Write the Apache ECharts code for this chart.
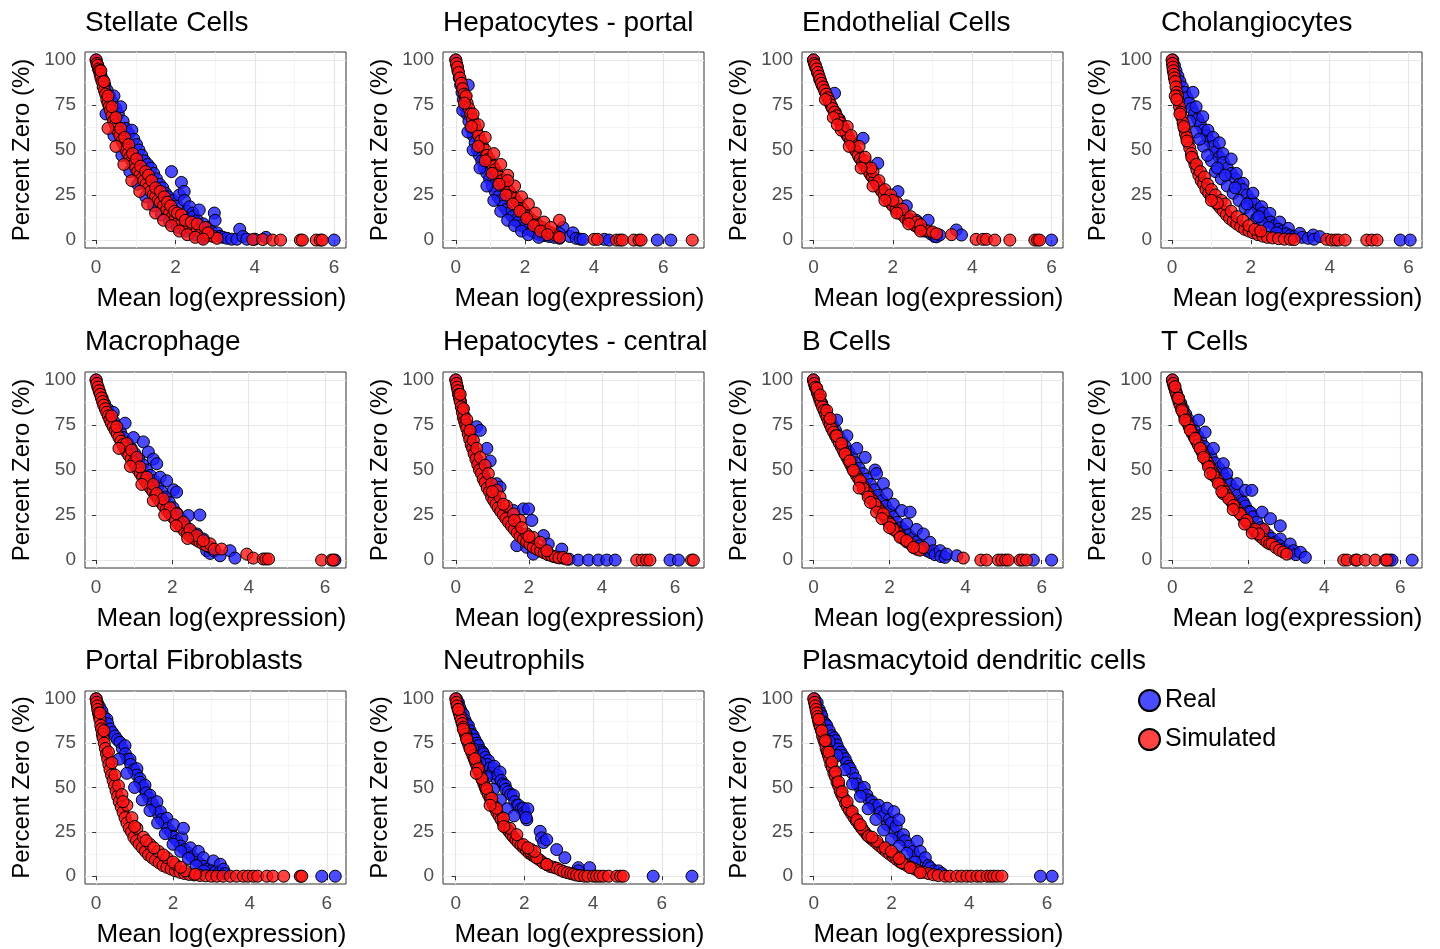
<!DOCTYPE html>
<html>
<head>
<meta charset="utf-8">
<script src="https://cdn.jsdelivr.net/npm/echarts@6/dist/echarts.min.js"></script>
<style>
  html, body { margin: 0; padding: 0; background: #fff; }
  #main { width: 1440px; height: 949px; }
</style>
</head>
<body>
<div id="main"></div>
<script>
// panel titles, in reading order
var panelTitles = ['Stellate Cells', 'Hepatocytes - portal', 'Endothelial Cells', 'Cholangiocytes',
  'Macrophage', 'Hepatocytes - central', 'B Cells', 'T Cells',
  'Portal Fibroblasts', 'Neutrophils', 'Plasmacytoid dendritic cells'];

var xTicks = [0, 2, 4, 6];
var yTicks = [0, 25, 50, 75, 100];
var xMinorTicks = [1, 3, 5, 7];
var yMinorTicks = [12.5, 37.5, 62.5, 87.5];

// [mean log(expression), percent zero]
var stellateReal = [[0,100],[0.04,97],[0.08,95],[0.12,92],[0.17,89],[0.22,86],[0.28,83],[0.34,80],[0.4,77],[0.45,80],[0.5,73],[0.56,70],[0.62,74],[0.68,66],[0.75,62],[0.82,59],[0.9,61],[0.95,56],[1.02,53],[1.08,50],[1.15,47],[1.22,44],[1.3,42],[1.38,40],[1.45,37],[1.52,34],[1.6,31],[1.68,29],[1.75,26],[1.82,24],[1.9,38],[1.95,22],[2.05,19],[2.1,25],[2.15,32],[2.22,27],[2.23,22],[2.3,16],[2.36,18.5],[2.44,15],[2.45,13],[2.55,11],[2.6,16.7],[2.7,9],[2.8,7],[2.9,5],[2.98,15],[3.0,11],[3.05,4],[3.12,2],[3.2,1.5],[3.3,1],[3.42,0.5],[3.55,0.5],[3.62,6],[3.7,2],[3.8,0.5],[4.0,0.5],[4.28,1.5],[6.0,0],
  [0.25,70],[0.45,58],[0.65,47],[0.85,38],[1.05,31],[1.25,24],[1.45,19],[1.65,14],[1.85,10],[2.05,7],[2.25,5],[2.5,3],[2.7,1.5]];
var stellateSim = [[0,100],[0.02,98],[0.04,97],[0.06,95],[0.08,94],[0.1,92],[0.12,90],[0.15,88],[0.18,85],[0.21,83],[0.24,81],[0.27,78],[0.3,76],[0.33,74],[0.36,72],[0.4,69],[0.44,66],[0.48,64],[0.52,62],[0.56,60],[0.6,58],[0.65,55],[0.7,53],[0.75,50],[0.8,48],[0.85,46],[0.9,44],[0.95,42],[1.0,40],[1.05,38],[1.1,36],[1.15,34],[1.2,33],[1.26,31],[1.32,29],[1.38,27],[1.44,25],[1.5,24],[1.56,22],[1.62,21],[1.7,19],[1.78,17],[1.85,15],[1.92,13],[2.0,12],[2.08,10],[2.16,9],[2.25,8],[2.35,7],[2.45,6],[2.55,5],[2.65,4],[2.75,3],[2.85,2.5],[2.95,2],[3.05,1],
  [0.12,94],[0.2,88],[0.3,80],[0.4,74],[0.5,68],[0.62,62],[0.72,57],[0.82,53],[0.92,48],[1.02,45],[1.12,41],[1.25,38],[1.32,36],[1.4,33],[1.5,29],[1.62,27],[1.72,24],[1.8,21],[1.88,19],[1.98,16],[2.05,15],[2.15,14],[2.25,11],[2.4,10],[2.55,9],[2.75,7],[2.82,4],
  [0.3,62],[0.5,52],[0.7,42],[0.9,33],[1.1,27],[1.3,20],[1.5,15],[1.7,11],[1.9,8],[2.1,5],[2.3,3],[2.5,1.5],[2.7,0.5],
  [3.95,0.3],[4.2,0.3],[4.45,0],[4.65,0],[5.15,0],[5.2,0],[5.55,0],[5.65,0],[5.7,0]];

var portalHepReal = [[0,100],[0.03,97],[0.06,94],[0.1,90],[0.14,86],[0.18,82],[0.22,78],[0.27,74],[0.32,70],[0.36,86],[0.38,66],[0.44,62],[0.5,58],[0.56,54],[0.62,50],[0.68,47],[0.75,44],[0.82,40],[0.9,37],[0.98,34],[1.06,30],[1.14,27],[1.22,24],[1.3,22],[1.38,19],[1.46,17],[1.55,15],[1.64,13],[1.72,11],[1.8,10],[1.9,8],[2.0,7],[2.1,6],[2.2,5],[2.3,4],[2.42,3],[2.55,2.5],[2.7,2],[2.85,1.5],[3.0,1],[3.1,7],[3.0,3.7],
  [0.2,72],[0.35,60],[0.5,50],[0.7,40],[0.9,30],[1.1,22],[1.3,16],[1.5,11],[1.7,8],[1.9,5],[2.1,3],[2.4,1.5],
  [3.3,2],[3.39,4],[3.48,1],[3.6,0.5],[3.68,0.4],[4.3,0.4],[4.44,0],[5.83,0],[6.22,0]];
var portalHepSim = [[0,100],[0.02,98],[0.05,96],[0.08,93],[0.12,90],[0.16,87],[0.2,84],[0.24,81],[0.28,79],[0.33,76],[0.38,73],[0.43,70],[0.48,67],[0.54,64],[0.6,61],[0.66,58],[0.72,55],[0.78,52],[0.85,50],[0.9,47],[0.96,45],[1.02,43],[1.08,41],[1.14,39],[1.2,37],[1.27,35],[1.34,33],[1.41,31],[1.48,29],[1.55,27],[1.62,25],[1.7,23],[1.78,21],[1.86,19],[1.94,17],[2.02,15],[2.1,13],[2.2,11],[2.3,10],[2.4,8],[2.5,7],[2.6,5.5],[2.7,4.5],[2.8,3.5],[2.9,2.5],[3.0,11],[3.0,1.5],
  [0.3,80],[0.5,70],[0.65,64],[0.85,57],[1.1,48],[1.3,42],[1.5,36],[1.7,30],[1.5,33],[1.9,24],[2.1,20],[2.3,15],[2.55,10],[2.75,7],
  [0.25,76],[0.45,63],[0.65,52],[0.85,44],[1.05,37],[1.25,31],[1.45,25],[1.65,20],[1.85,16],[2.05,12],[2.25,8],[2.45,5],[2.65,3],
  [4.0,0.4],[4.1,0.4],[4.65,0],[4.75,0],[4.82,0],[5.15,0],[5.3,0],[5.36,0],[6.84,0]];

var endoReal = [[0,100],[0.05,96],[0.1,93],[0.16,89],[0.22,86],[0.3,82],[0.38,78],[0.46,74],[0.53,81.5],[0.55,71],[0.65,67],[0.75,62],[0.85,58],[0.95,54],[1.05,50],[1.15,46],[1.25,56.5],[1.25,43],[1.35,40],[1.45,36],[1.55,33],[1.62,42.6],[1.65,30],[1.75,27],[1.85,24],[1.95,21],[2.05,19],[2.13,26.9],[2.15,17],[2.25,15],[2.34,19],[2.4,12],[2.5,10],[2.59,11],[2.6,8],[2.7,6.5],[2.8,5],[2.89,11],[2.95,3.5],[3.05,2],[3.1,1.8],[3.18,2.8],[3.6,5.6],[3.73,2.8],[6.0,0]];
var endoSim = [[0,100],[0.02,98],[0.05,97],[0.08,95],[0.11,93],[0.14,91],[0.17,89],[0.2,87],[0.24,85],[0.28,83],[0.32,81],[0.36,79],[0.4,77],[0.44,75],[0.48,73],[0.53,71],[0.58,69],[0.63,67],[0.68,65],[0.73,63],[0.78,61],[0.83,59],[0.88,57],[0.93,55],[0.98,53],[1.03,51],[1.08,49],[1.13,47],[1.18,45],[1.24,43],[1.3,41],[1.36,39],[1.42,37],[1.48,35],[1.54,33],[1.6,31],[1.66,29],[1.72,27],[1.78,25],[1.85,23],[1.92,21],[2.0,19],[2.08,17],[2.16,15],[2.24,14],[2.32,12],[2.4,11],[2.48,9.5],[2.56,8],[2.64,7],[2.72,6],[2.8,5.5],[2.9,5],[3.0,4.5],[3.1,3.5],[3.48,3],
  [0.5,68],[0.7,61],[0.85,63],[0.95,58],[1.15,52],[1.3,44],[1.5,38],[1.65,33],[1.8,28],[1.95,25],[2.1,21],[2.25,17],[2.45,13],[2.6,10],[2.7,8.5],[1.3,46],[1.45,40],[2.0,22],
  [0.3,78],[0.6,64],[0.9,52],[1.2,40],[1.5,30],[1.8,22],[2.1,15],[2.4,9],[2.7,5],
  [4.1,0.4],[4.27,0.4],[4.36,0.4],[4.57,0],[4.95,0],[5.58,0],[5.65,0],[5.7,0]];

var cholReal = [[0.02,100],[0.06,97],[0.1,94],[0.15,91],[0.2,88],[0.26,85],[0.32,82],[0.38,79],[0.44,76],[0.5,73],[0.53,82],[0.57,70],[0.61,74],[0.65,67],[0.72,64],[0.78,68.5],[0.8,61],[0.88,58],[0.91,61],[0.96,55],[1.04,57],[1.05,52],[1.12,49],[1.2,54],[1.2,46],[1.29,48],[1.3,43],[1.4,40],[1.5,45],[1.5,37],[1.6,34],[1.63,37],[1.7,31],[1.8,31.5],[1.8,28],[1.9,25],[2.0,22],[2.05,26],[2.1,20],[2.2,17],[2.27,18.5],[2.3,15],[2.4,12],[2.48,14.8],[2.5,10],[2.6,8],[2.73,10],[2.7,6],[2.8,5],[2.95,6.5],[2.9,3.5],[3.0,2.5],[3.1,2],[3.24,3.7],[3.3,1.5],[3.45,1],[3.58,2.8],[3.6,0.5],[3.75,1.9],[5.79,0],[6.04,0],
  [0.6,60],[0.8,52],[1.0,44],[1.1,38],[1.25,34],[1.4,30],[1.55,26],[1.7,22],[1.85,18],[2.0,15],[2.15,12],[2.3,9],[0.45,66],[0.7,56],[0.9,47],[1.15,40],[1.35,36],[1.6,29],[1.9,20],[2.2,13],[2.45,7],[2.65,4]];
var cholSim = [[0,100],[0.01,98],[0.02,96],[0.03,94],[0.05,92],[0.06,90],[0.08,88],[0.1,85],[0.12,82],[0.14,80],[0.16,77],[0.19,74],[0.22,71],[0.25,68],[0.28,65],[0.31,62],[0.34,59],[0.37,57],[0.41,54],[0.45,51],[0.49,48],[0.53,45],[0.58,42],[0.63,39],[0.68,36],[0.74,33],[0.8,31],[0.86,28],[0.93,26],[1.0,24],[1.07,22],[1.14,20],[1.22,18],[1.3,16],[1.38,14],[1.46,12],[1.55,10.5],[1.64,9],[1.74,7.5],[1.84,6],[1.95,5],[2.06,4],[2.18,3],[2.3,2.2],[2.42,1.5],[2.55,1.2],[2.7,0.8],[2.85,0.5],[3.0,0.4],[3.1,0.3],
  [0.08,80],[0.12,78],[0.2,70],[0.3,63],[0.38,55],[0.5,46],[0.62,42],[0.72,38],[0.82,35],[0.9,31],[1.0,28],[1.1,25],[1.25,22],[1.35,20],[1.5,16],[1.65,13],[1.8,11],[1.95,8],[2.1,6],[2.25,5],[1.15,20.5],[1.0,22],
  [3.92,0.4],[4.05,0],[4.15,0],[4.22,0],[4.39,0],[4.94,0],[5.07,0],[5.2,0]];

var macroReal = [[0,100],[0.05,96],[0.1,93],[0.16,90],[0.22,87],[0.3,84],[0.38,80],[0.45,82],[0.46,77],[0.55,74],[0.64,71],[0.72,68],[0.76,76],[0.82,65],[0.92,62],[0.98,68],[1.02,59],[1.12,56],[1.22,53],[1.24,65.6],[1.32,50],[1.37,60],[1.42,47],[1.5,56],[1.52,44],[1.59,53.5],[1.62,41],[1.68,46],[1.72,38],[1.82,35],[1.85,44],[1.92,32],[2.03,39],[2.02,29],[2.11,37.7],[2.12,26],[2.22,23],[2.24,21],[2.32,20],[2.42,24.7],[2.42,17],[2.52,15],[2.62,13],[2.64,14.5],[2.72,25],[2.72,11],[2.81,11.7],[2.82,9],[2.9,5.2],[2.99,3.7],[3.0,7],[3.1,5],[3.25,2.4],[3.51,5.2],[3.64,1.1],[6.26,0]];
var macroSim = [[0,100],[0.02,98],[0.05,96],[0.08,94],[0.11,92],[0.14,90],[0.17,88],[0.2,86],[0.24,84],[0.28,82],[0.32,80],[0.36,78],[0.4,76],[0.45,74],[0.5,72],[0.55,70],[0.6,68],[0.65,66],[0.7,64],[0.75,62],[0.8,60],[0.86,58],[0.92,56],[0.98,54],[1.04,52],[1.1,50],[1.16,48],[1.22,46],[1.28,44],[1.35,42],[1.42,40],[1.49,38],[1.56,36],[1.63,34],[1.7,32],[1.77,30],[1.84,28],[1.92,26],[2.0,24],[2.08,22],[2.16,20],[2.24,18],[2.32,16],[2.4,14.5],[2.48,13],[2.56,12],[2.64,11],[2.72,10],[2.8,9],[2.9,8],[2.99,9],[3.1,6],[3.29,6.1],
  [0.41,80],[0.54,74],[0.8,64.7],[0.93,61],[1.07,57],[1.15,51.7],[1.33,46],[1.5,42],[1.59,37],[1.76,34],[1.94,29],[2.11,25.7],[2.29,21],[2.46,17],[2.64,13.6],[2.81,10.8],[0.6,62],[0.9,52],[1.2,42],[1.5,33],[1.8,25],[2.1,19],[2.4,12],
  [3.95,3.3],[4.12,1.1],[4.38,0.6],[4.45,0.6],[4.52,0.6],[5.91,0],[6.17,0],[6.22,0]];

var centralHepReal = [[0,100],[0.04,96],[0.08,92],[0.13,88],[0.18,84],[0.23,80],[0.28,76],[0.34,72],[0.4,68],[0.46,64],[0.52,60],[0.57,74],[0.58,56],[0.64,53],[0.67,72],[0.7,50],[0.77,47],[0.84,44],[0.85,62],[0.91,41],[0.94,55],[0.98,38],[1.06,35],[1.12,42.4],[1.14,32],[1.21,40.5],[1.22,29],[1.3,26],[1.38,24],[1.46,22],[1.54,20],[1.58,27.5],[1.62,18],[1.67,8],[1.7,16],[1.78,14],[1.85,28.4],[1.86,12],[1.94,7.1],[1.95,11],[1.99,28.4],[2.04,9],[2.08,22],[2.12,3.3],[2.14,8],[2.24,6],[2.34,5],[2.4,13.6],[2.45,4],[2.53,8.9],[2.56,3],[2.68,2],[2.8,1.5],[2.9,6.1],[2.95,1],[3.1,0.5],[3.35,0],[3.63,0],[3.9,0],[4.13,0],[4.36,0],[5.86,0],[6.09,0]];
var centralHepSim = [[0,100],[0.02,98],[0.04,96],[0.06,94],[0.08,92],[0.1,90],[0.12,88],[0.15,85],[0.18,82],[0.21,79],[0.24,77],[0.27,75],[0.3,73],[0.34,70],[0.38,67],[0.42,64],[0.46,62],[0.5,59],[0.55,56],[0.6,53],[0.65,50],[0.7,48],[0.75,45],[0.8,43],[0.86,40],[0.92,38],[0.98,35],[1.04,33],[1.1,31],[1.16,29],[1.23,27],[1.3,25],[1.37,23],[1.44,21],[1.52,19],[1.6,17],[1.68,15],[1.76,13],[1.85,11.5],[1.94,10],[2.03,8.5],[2.12,7],[2.22,6],[2.32,5],[2.42,4],[2.52,3],[2.62,2.4],[2.72,1.8],[2.82,1.2],[2.94,1.5],[3.04,0.5],
  [0.12,92],[0.21,84],[0.3,78],[0.39,72],[0.48,66.5],[0.57,62],[0.67,57],[0.8,52.6],[0.89,48],[0.98,42.4],[1.12,38.7],[1.21,35],[1.39,30],[1.58,25.6],[1.76,22],[1.94,14.5],[2.12,12.6],[2.31,9.9],[2.49,5.2],[1.0,38],[1.3,31],[1.6,22],[1.8,18],[2.0,13],
  [4.95,0],[5.1,0],[5.22,0],[5.31,0],[6.45,0],[6.5,0]];

var bReal = [[0,100],[0.05,96],[0.1,93],[0.16,90],[0.22,87],[0.28,84],[0.35,81],[0.42,78],[0.5,75],[0.58,72],[0.61,77.7],[0.66,69],[0.75,66],[0.84,63],[0.88,69],[0.93,60],[1.02,57],[1.11,54],[1.14,62],[1.2,51],[1.3,48],[1.36,57],[1.4,45],[1.5,42],[1.6,39],[1.62,50],[1.66,48],[1.7,36],[1.8,33],[1.84,42.4],[1.9,30],[1.93,36.8],[2.0,27],[2.1,31],[2.1,24],[2.2,21],[2.32,27.5],[2.3,18],[2.4,16],[2.45,20],[2.5,14],[2.54,26.6],[2.6,12],[2.71,17],[2.7,10],[2.8,8],[2.89,14.5],[2.9,6],[3.0,5],[3.06,9.9],[3.1,4],[3.15,5.2],[3.2,3],[3.33,5.2],[3.35,2],[3.46,1.5],[3.5,3.3],[3.77,2.4],[5.78,0],[6.26,0]];
var bSim = [[0,100],[0.02,98],[0.05,96],[0.08,95],[0.11,93],[0.14,91],[0.17,89],[0.2,87],[0.24,85],[0.28,83],[0.32,81],[0.36,79],[0.4,77],[0.44,75],[0.48,73],[0.53,71],[0.58,69],[0.63,67],[0.68,65],[0.73,63],[0.78,61],[0.83,59],[0.88,57],[0.93,55],[0.98,53],[1.03,51],[1.08,49],[1.13,47],[1.19,45],[1.25,43],[1.31,41],[1.37,39],[1.43,37],[1.49,35],[1.56,33],[1.63,31],[1.7,29],[1.77,27],[1.84,25],[1.91,23],[1.98,21],[2.06,19],[2.14,17],[2.22,15],[2.3,13],[2.38,11.5],[2.46,10],[2.55,9],[2.63,7],[2.72,6],[2.8,5.5],[2.89,7],
  [0.09,95.4],[0.18,91.6],[0.35,83],[0.44,78.6],[0.61,69],[0.74,64.7],[0.83,59],[0.96,55],[1.05,49.8],[1.23,44],[1.31,39.6],[1.44,35],[1.62,31],[1.66,26.6],[1.84,25.7],[2.01,20],[2.1,17],[2.28,12.6],[2.45,10.8],[2.63,7],[1.2,40],[1.5,32],[1.8,23],[2.0,18],
  [3.94,1.1],[4.4,0],[4.55,0],[4.86,0],[4.95,0],[5.05,0],[5.12,0],[5.43,0],[5.5,0],[5.6,0]];

var tReal = [[0,100],[0.05,96],[0.1,93],[0.16,90],[0.22,87],[0.28,84],[0.35,81],[0.42,78],[0.5,75],[0.58,72],[0.66,69],[0.69,77.7],[0.75,66],[0.84,63],[0.86,71],[0.93,60],[1.02,57],[1.08,62],[1.12,54],[1.22,51],[1.32,48],[1.34,53.5],[1.42,45],[1.43,48],[1.52,42],[1.62,39],[1.7,42.4],[1.72,36],[1.82,33],[1.87,32],[1.92,38.7],[1.92,30],[2.02,27],[2.05,26.6],[2.09,38.7],[2.12,24],[2.22,21],[2.32,18],[2.36,26.6],[2.42,16],[2.52,14],[2.58,23],[2.62,12],[2.72,10],[2.84,19],[2.84,11.7],[2.82,8],[2.92,6],[3.02,5],[3.1,8.9],[3.12,4],[3.19,5.2],[3.25,3],[3.37,4.3],[3.5,1.5],[5.72,0],[5.78,0],[6.31,0]];
var tSim = [[0,100],[0.02,98],[0.05,96],[0.08,94],[0.11,92],[0.14,90],[0.17,88],[0.2,86],[0.24,84],[0.28,82],[0.32,80],[0.36,78],[0.4,76],[0.44,74],[0.48,72],[0.53,70],[0.58,68],[0.63,66],[0.68,64],[0.73,62],[0.78,60],[0.83,58],[0.88,56],[0.93,54],[0.98,52],[1.03,50],[1.08,48],[1.14,46],[1.2,44],[1.26,42],[1.32,40],[1.38,38],[1.44,36],[1.5,34],[1.57,32],[1.64,30],[1.71,28],[1.78,26],[1.85,24],[1.92,22],[2.0,20],[2.08,18],[2.16,16],[2.24,14.5],[2.32,13],[2.4,17],[2.4,11.5],[2.49,9.9],[2.56,9],[2.62,8.9],[2.72,7],[2.82,5.5],[2.92,4.5],[3.01,3.3],
  [0.07,96.3],[0.16,89.8],[0.25,83],[0.33,77.7],[0.47,72],[0.6,67.5],[0.73,62],[0.82,57],[0.95,51.7],[1.08,47],[1.21,42.4],[1.34,36.8],[1.48,34],[1.61,30.3],[1.78,25.7],[1.96,22],[2.18,17],[2.27,14.5],[1.0,48],[1.3,38],[1.6,28],[1.9,20],[2.1,15],
  [4.51,0],[4.6,0],[4.82,0],[4.86,0],[5.08,0],[5.34,0],[5.61,0],[5.65,0]];

var fibroReal = [[0,100],[0.05,97],[0.1,95],[0.15,93],[0.2,90],[0.28,88.5],[0.3,86],[0.36,83],[0.42,81],[0.49,79],[0.55,77],[0.62,75.5],[0.68,72],[0.75,73.6],[0.76,69],[0.82,66],[0.88,66],[0.9,63],[0.98,60],[1.06,60.6],[1.06,57],[1.14,55],[1.14,53],[1.22,50],[1.27,51.3],[1.3,47],[1.38,44],[1.4,45.7],[1.46,41],[1.54,38],[1.58,42],[1.62,35],[1.67,36.4],[1.7,32],[1.78,30],[1.84,32.7],[1.86,27],[1.94,25],[2.01,29],[2.02,22],[2.1,20],[2.23,21.6],[2.27,27],[2.2,17],[2.3,15],[2.4,13],[2.45,16],[2.5,11],[2.6,9],[2.66,14],[2.7,7],[2.79,10.4],[2.8,5.5],[2.9,4],[3.05,8.6],[3.0,3],[3.1,2.5],[3.23,6.7],[3.2,2],[3.31,3.9],[3.35,1.5],[5.87,0],[6.22,0],
  [0.6,66],[0.8,58],[1.0,50],[1.2,43],[1.4,37],[1.6,30],[1.8,24],[2.0,18],[2.2,14],[2.4,10],[2.6,6],[2.8,3]];
var fibroSim = [[0,100],[0.01,98],[0.03,96],[0.04,94],[0.06,92],[0.08,90],[0.1,88],[0.12,85],[0.14,83],[0.16,80],[0.18,78],[0.21,75],[0.24,72],[0.27,69],[0.3,66],[0.33,63],[0.36,60],[0.4,57],[0.44,54],[0.48,51],[0.52,48],[0.56,45],[0.6,42],[0.65,39],[0.7,36],[0.75,33],[0.8,30],[0.86,27],[0.92,25],[0.98,22],[1.05,20],[1.12,18],[1.2,16],[1.28,14],[1.36,12],[1.45,10.5],[1.54,9],[1.64,7.5],[1.74,6],[1.84,5],[1.95,4],[2.06,3],[2.18,2.2],[2.3,1.5],[2.42,1],[2.55,0.7],[2.7,0.4],[2.85,0.2],[3.0,0],
  [0.1,92],[0.2,82],[0.32,70],[0.41,64],[0.49,57],[0.58,51],[0.67,46],[0.8,40],[0.93,33],[1.06,27],[1.23,22],[1.4,18],[1.62,14],[1.84,10.4],[2.06,6.7],[2.32,3],[2.58,1.1],[0.7,42],[1.0,28],[1.3,20],[1.5,16],[1.75,12],[2.0,8],[2.2,5],
  [3.14,0],[3.3,0],[3.49,0],[3.65,0],[3.83,0],[3.95,0],[4.09,0],[4.2,0],[4.44,0],[4.6,0],[4.88,0],[5.31,0],[5.35,0]];

var neutroReal = [[0.02,100],[0.05,98],[0.08,97.8],[0.12,95],[0.16,93],[0.22,91.3],[0.27,88],[0.32,86],[0.37,84.8],[0.42,82],[0.47,80],[0.51,79.2],[0.56,77],[0.62,75],[0.66,73.6],[0.72,71],[0.78,70],[0.81,69],[0.86,67],[0.95,65.2],[0.92,63],[1.0,61],[1.1,60.6],[1.06,58],[1.12,62],[1.19,55],[1.22,57],[1.29,58.7],[1.32,54],[1.38,52],[1.44,51.3],[1.46,49],[1.53,47.6],[1.6,46],[1.68,45.7],[1.72,42],[1.78,40],[1.83,40],[1.9,38],[1.97,38.3],[2.0,36],[2.02,34.6],[2.07,31.8],[2.1,38],[2.05,33],
  [0.3,80],[0.5,72],[0.7,64],[0.9,56],[1.1,49],[1.3,43],[1.5,38],[1.7,34],
  [2.46,25.3],[2.5,21.6],[2.56,19],[2.65,20.6],[2.94,15],[3.18,10.4],[3.57,4.8],[3.9,4.8],[3.57,3],[5.75,0],[6.88,0]];
var neutroSim = [[0,100],[0.02,98],[0.04,96],[0.07,94],[0.1,92],[0.13,90],[0.16,88],[0.19,86],[0.22,84],[0.25,82],[0.28,80],[0.31,78],[0.34,76],[0.38,74],[0.42,72],[0.46,70],[0.5,68],[0.54,66],[0.58,64],[0.62,62],[0.66,60],[0.7,58],[0.74,56],[0.78,54],[0.82,52],[0.86,50],[0.9,48],[0.95,46],[1.0,44],[1.05,42],[1.1,40],[1.15,38],[1.2,36],[1.26,34],[1.32,32],[1.38,30],[1.44,28],[1.5,26.5],[1.56,25],[1.62,23.5],[1.68,22],[1.75,20.5],[1.82,19],[1.9,17.5],[1.98,16],[2.06,14.5],[2.14,13],[2.22,12],[2.3,11],[2.38,10],[2.46,9],[2.55,7.5],[2.65,6.5],[2.75,5.5],[2.85,5],[2.94,4.5],[3.04,3.5],[3.14,2.6],[3.25,2],[3.35,1.5],[3.43,1.1],[3.52,0.6],[3.62,0.3],
  [0.08,94],[0.22,82.9],[0.32,77.3],[0.42,71.7],[0.56,66.2],[0.66,60.6],[0.76,55],[0.9,49.4],[1.05,43.9],[1.19,38.3],[1.39,32.7],[1.58,27],[1.78,23.4],[1.97,17.8],[2.17,14],[2.36,10.4],[2.65,6.7],[2.2,15],[2.3,14],[2.1,16],[0.6,58],[1.0,40],[1.4,28],
  [3.75,0],[3.85,0],[4.01,0],[4.1,0],[4.2,0],[4.3,0],[4.45,0],[4.69,0],[4.8,0],[4.88,0]];

var pdcReal = [[0.02,100],[0.05,98],[0.09,97.8],[0.14,94],[0.18,92],[0.21,90.3],[0.26,87],[0.3,86],[0.34,84.8],[0.4,82],[0.47,79.2],[0.52,78],[0.56,76.4],[0.6,74],[0.64,71.7],[0.7,70],[0.75,68],[0.81,66.2],[0.85,64],[0.9,62],[0.94,60.6],[1.0,58],[1.07,55],[1.12,52],[1.2,49.4],[1.25,47],[1.3,50],[1.37,45.7],[1.42,43],[1.5,42],[1.55,40],[1.62,38],[1.67,40],[1.72,36],[1.8,34],[1.89,38.3],[1.89,29],[1.95,32],[2.0,30],[2.06,36.4],[2.06,25.3],[2.12,28],[2.19,31.8],[2.2,22],[2.31,23.4],[2.35,20],[2.45,17],[2.55,14],[2.66,19.7],[2.62,11],[2.74,14],[2.8,8],[2.87,10.4],[2.95,6],[3.0,4.8],[3.1,3],[3.21,3],[3.3,1.5],
  [0.4,76],[0.6,68],[0.8,60],[1.0,52],[1.2,45],[1.4,38],[1.6,32],[1.8,26],[2.0,21],[2.2,17],[2.4,13],[2.6,8],
  [5.83,0],[6.13,0]];
var pdcSim = [[0,100],[0.02,98],[0.04,96],[0.06,94],[0.08,92],[0.1,90],[0.12,88],[0.14,86],[0.17,84],[0.2,82],[0.23,79],[0.26,77],[0.29,75],[0.32,72],[0.35,70],[0.38,68],[0.41,66],[0.44,63],[0.48,61],[0.52,58],[0.56,56],[0.6,53],[0.64,51],[0.68,48],[0.72,46],[0.77,44],[0.82,41],[0.87,39],[0.92,37],[0.98,35],[1.04,33],[1.1,31],[1.17,29],[1.24,27],[1.31,25],[1.38,23],[1.46,21.5],[1.54,20],[1.62,18.5],[1.7,17],[1.78,15.5],[1.86,14],[1.95,12.5],[2.04,11],[2.13,9.5],[2.22,8],[2.31,7],[2.4,6],[2.5,5],[2.6,4],[2.7,3],[2.82,2.2],[2.95,1.5],[3.08,0.8],[3.2,0.4],[3.38,0],
  [0.13,88.5],[0.21,82],[0.3,76.4],[0.39,69.9],[0.47,64.3],[0.56,58.7],[0.64,53.2],[0.73,47.6],[0.86,42],[0.99,36.4],[1.11,31.8],[1.24,27],[1.41,22.5],[1.63,19.7],[1.84,16],[2.06,12.3],[2.27,7.6],[2.48,4.8],[2.74,2],[2.0,14],[2.2,10],[1.5,22],[1.2,29],
  [3.5,0],[3.68,0],[3.8,0],[3.94,0],[4.05,0],[4.2,0],[4.3,0],[4.46,0],[4.55,0],[4.63,0],[4.72,0],[4.84,0]];

var realData = [stellateReal, portalHepReal, endoReal, cholReal, macroReal, centralHepReal, bReal, tReal, fibroReal, neutroReal, pdcReal];
var simData = [stellateSim, portalHepSim, endoSim, cholSim, macroSim, centralHepSim, bSim, tSim, fibroSim, neutroSim, pdcSim];

// layout (pixels) and per-panel axis extents
var colLeft = [85, 443, 802, 1161];
var rowTop = [52, 372, 691];
var titleTop = [9, 328, 647];
var plotW = 261, plotH = 196;
var xExtent = [[-0.28, 6.3], [-0.37, 7.18], [-0.29, 6.29], [-0.28, 6.34],
  [-0.29, 6.55], [-0.35, 6.79], [-0.3, 6.56], [-0.3, 6.57],
  [-0.29, 6.5], [-0.37, 7.23], [-0.3, 6.41]];
var yExtent = [-4.4, 104.4];

var myChart = echarts.init(document.getElementById('main'));

var titles = [], grids = [], xAxes = [], yAxes = [], series = [];
for (var i = 0; i < panelTitles.length; i++) {
  var c = i % 4, r = Math.floor(i / 4);
  titles.push({
    text: panelTitles[i], left: colLeft[c], top: titleTop[r], padding: 0,
    textStyle: { fontSize: 28, fontWeight: 'normal', color: '#000' }
  });
  grids.push({
    left: colLeft[c], top: rowTop[r], width: plotW, height: plotH,
    show: true, backgroundColor: '#fff', borderColor: '#333', borderWidth: 1
  });
  // major axes
  xAxes.push({
    gridIndex: i, type: 'value', min: xExtent[i][0], max: xExtent[i][1],
    axisLine: { show: false },
    axisTick: { show: true, length: 4, customValues: xTicks, lineStyle: { color: '#333' } },
    axisLabel: { customValues: xTicks, color: '#4d4d4d', fontSize: 19, margin: 10 },
    splitLine: { show: true, lineStyle: { color: '#e6e6e6', width: 1.2 } },
    name: 'Mean log(expression)', nameLocation: 'middle', nameGap: 38,
    nameTextStyle: { fontSize: 26, color: '#000', padding: [0, 0, 0, 12] }
  });
  yAxes.push({
    gridIndex: i, type: 'value', min: yExtent[0], max: yExtent[1],
    axisLine: { show: false },
    axisTick: { show: true, length: 4, customValues: yTicks, lineStyle: { color: '#333' } },
    axisLabel: { customValues: yTicks, color: '#4d4d4d', fontSize: 19, margin: 9 },
    splitLine: { show: true, lineStyle: { color: '#e6e6e6', width: 1.2 } },
    name: 'Percent Zero (%)', nameLocation: 'middle', nameGap: 51,
    nameTextStyle: { fontSize: 24, color: '#000' }
  });
  // minor grid lines
  xAxes.push({
    gridIndex: i, type: 'value', min: xExtent[i][0], max: xExtent[i][1],
    axisLine: { show: false },
    axisTick: { show: false, customValues: xMinorTicks },
    axisLabel: { show: false, customValues: xMinorTicks },
    splitLine: { show: true, lineStyle: { color: '#f1f1f1', width: 0.8 } }
  });
  yAxes.push({
    gridIndex: i, type: 'value', min: yExtent[0], max: yExtent[1],
    axisLine: { show: false },
    axisTick: { show: false, customValues: yMinorTicks },
    axisLabel: { show: false, customValues: yMinorTicks },
    splitLine: { show: true, lineStyle: { color: '#f1f1f1', width: 0.8 } }
  });
  series.push({
    name: 'Real', type: 'scatter', xAxisIndex: 2 * i, yAxisIndex: 2 * i,
    data: realData[i], symbolSize: 12, silent: true,
    itemStyle: { color: 'rgba(30,30,255,0.8)', borderColor: '#000', borderWidth: 1, opacity: 1 }
  });
  series.push({
    name: 'Simulated', type: 'scatter', xAxisIndex: 2 * i, yAxisIndex: 2 * i,
    data: simData[i], symbolSize: 12, silent: true,
    itemStyle: { color: 'rgba(255,20,20,0.8)', borderColor: '#000', borderWidth: 1, opacity: 1 }
  });
}

var option = {
  animation: false,
  textStyle: { fontFamily: 'Liberation Sans, Arial, sans-serif' },
  title: titles,
  legend: {
    orient: 'vertical', left: 1138, top: 688, padding: 0,
    itemWidth: 21, itemHeight: 21, itemGap: 14, selectedMode: false,
    textStyle: { fontSize: 25, color: '#000' },
    data: [{ name: 'Real', icon: 'circle' }, { name: 'Simulated', icon: 'circle' }]
  },
  grid: grids,
  xAxis: xAxes,
  yAxis: yAxes,
  series: series
};

myChart.setOption(option);
</script>
</body>
</html>
